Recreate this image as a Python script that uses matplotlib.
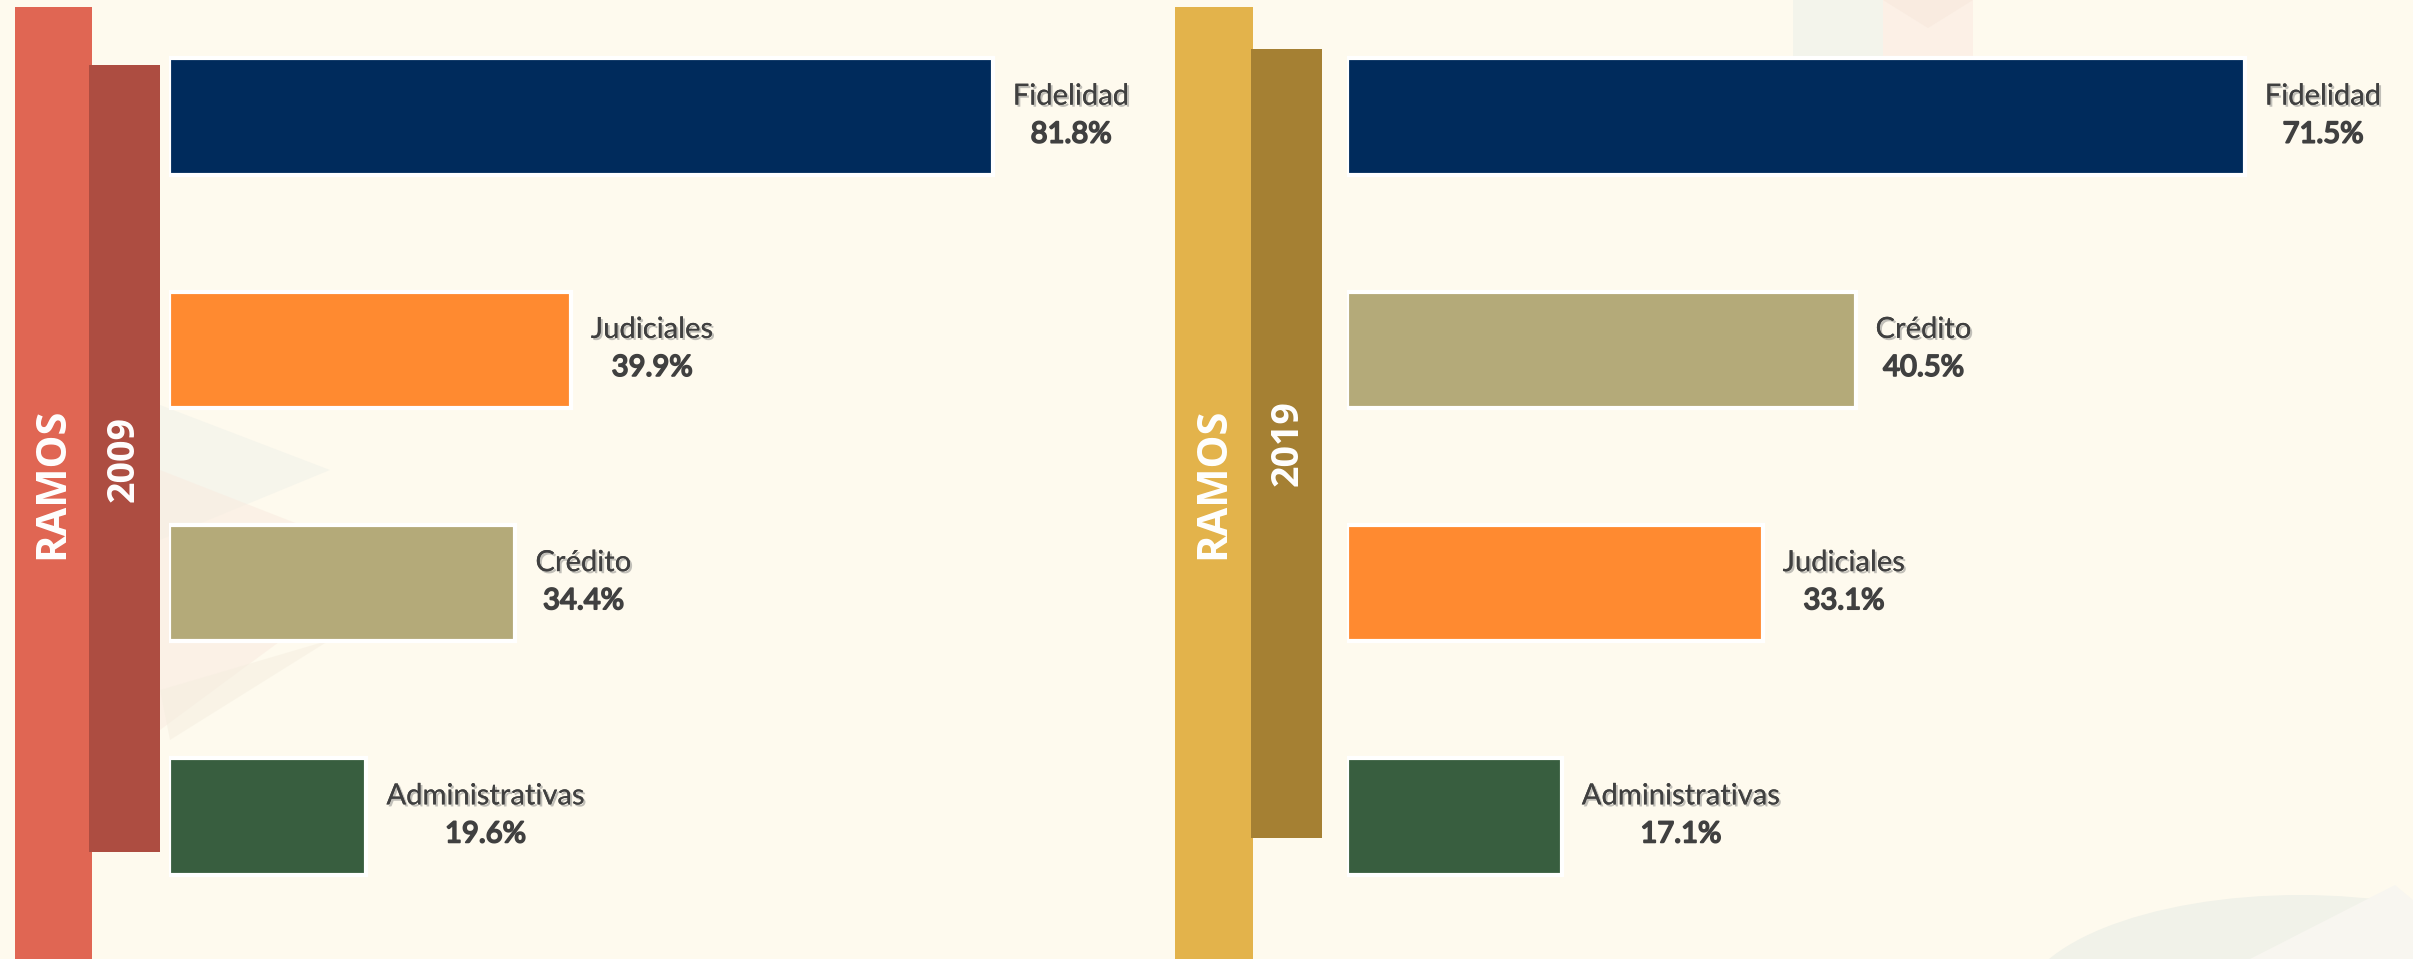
import matplotlib
matplotlib.use('Agg')
from matplotlib import pyplot as plt
from matplotlib.patches import Rectangle, Polygon, Ellipse
import matplotlib.patheffects as pe

W, H = 2413, 959

# datos
cats_2009 = ['Fidelidad', 'Judiciales', 'Crédito', 'Administrativas']
vals_2009 = [81.8, 39.9, 34.4, 19.6]
cats_2019 = ['Fidelidad', 'Crédito', 'Judiciales', 'Administrativas']
vals_2019 = [71.5, 40.5, 33.1, 17.1]
years = ['2009', '2019']

colores = {'Fidelidad': '#002B5C', 'Judiciales': '#FF8A30',
           'Crédito': '#B4AA79', 'Administrativas': '#385E3F'}

fondo = '#FEFAEE'
txt_color = '#404040'
sombra = [pe.withSimplePatchShadow(offset=(1.5, -1.5), shadow_rgbFace='#777777', alpha=0.45), pe.Normal()]
negrita = [pe.withStroke(linewidth=1.3, foreground=txt_color)]

fig = plt.figure(figsize=(W / 100, H / 100), dpi=100, facecolor=fondo)

# capa de fondo en pixeles
bg = fig.add_axes([0, 0, 1, 1], zorder=0)
bg.set_xlim(0, W)
bg.set_ylim(H, 0)
bg.axis('off')

# marcas de agua tenues
bg.add_patch(Polygon([(160, 405), (330, 470), (160, 540)], color='#F1F2EA', alpha=0.6, lw=0))
bg.add_patch(Polygon([(160, 470), (390, 560), (160, 730)], color='#F9EADF', alpha=0.5, lw=0))
bg.add_patch(Polygon([(160, 690), (330, 640), (170, 740)], color='#F5EEE0', alpha=0.5, lw=0))
bg.add_patch(Rectangle((1793, 0), 90, 56, color='#F3F4EB', lw=0))
bg.add_patch(Rectangle((1883, 0), 90, 56, color='#FCF0E6', lw=0))
bg.add_patch(Polygon([(1883, 0), (1973, 0), (1928, 28)], color='#F9EBE0', lw=0))
bg.add_patch(Ellipse((2300, 1010), 560, 230, color='#F1F2E9', lw=0))
bg.add_patch(Polygon([(2250, 959), (2395, 885), (2413, 900), (2413, 959)], color='#F8F6F0', lw=0))

paneles = [
    dict(c1=(15, 92), col1='#E06653', c2=(89, 160), col2='#AD4D41', y2=(65, 852),
         ramos=(53, 483), year=(124, 459), ax=(169, 1170), xmax=99.4,
         cats=cats_2009, vals=vals_2009, year_txt=years[0]),
    dict(c1=(1175, 1253), col1='#E3B34B', c2=(1251, 1322), col2='#A58033', y2=(49, 838),
         ramos=(1214, 483), year=(1288, 443), ax=(1347, 2413), xmax=84.9,
         cats=cats_2019, vals=vals_2019, year_txt=years[1]),
]

renderer = fig.canvas.get_renderer()

for p in paneles:
    bg.add_patch(Rectangle((p['c1'][0], 7), p['c1'][1] - p['c1'][0], H, color=p['col1'], lw=0))
    bg.add_patch(Rectangle((p['c2'][0], p['y2'][0]), p['c2'][1] - p['c2'][0],
                           p['y2'][1] - p['y2'][0], color=p['col2'], lw=0))
    bg.text(p['ramos'][0], p['ramos'][1], 'RAMOS', rotation=90, ha='center', va='center',
            color='white', fontsize=30, fontweight='bold', family='Open Sans')
    bg.text(p['year'][0], p['year'][1], p['year_txt'], rotation=90, ha='center', va='center',
            color='white', fontsize=27, fontweight='bold', family='Open Sans')

    x0, x1 = p['ax']
    ax = fig.add_axes([x0 / W, 26 / H, (x1 - x0) / W, 933 / H], zorder=2)
    ax.set_facecolor('none')
    ax.axis('off')
    ax.set_xlim(0, p['xmax'])
    ax.set_ylim(3.5, -0.5)
    pos = list(range(len(p['cats'])))
    ax.barh(pos, p['vals'], height=0.5, color=[colores[c] for c in p['cats']],
            edgecolor='white', linewidth=3)

    for i, (cat, val) in enumerate(zip(p['cats'], p['vals'])):
        t1 = ax.annotate(cat, xy=(val, i), xytext=(0, 20), textcoords='offset pixels',
                         ha='center', va='center', fontsize=21, family='Lato',
                         color=txt_color, path_effects=sombra)
        t2 = ax.annotate(f'{val}%', xy=(val, i), xytext=(0, -18), textcoords='offset pixels',
                         ha='center', va='center', fontsize=21, family='Lato',
                         color=txt_color, path_effects=negrita)
        w = max(t1.get_window_extent(renderer).width, t2.get_window_extent(renderer).width)
        dx = 20 + w / 2
        t1.set_position((dx, 20))
        t2.set_position((dx, -18))

fig.savefig('out.png', dpi=100, facecolor=fondo)
